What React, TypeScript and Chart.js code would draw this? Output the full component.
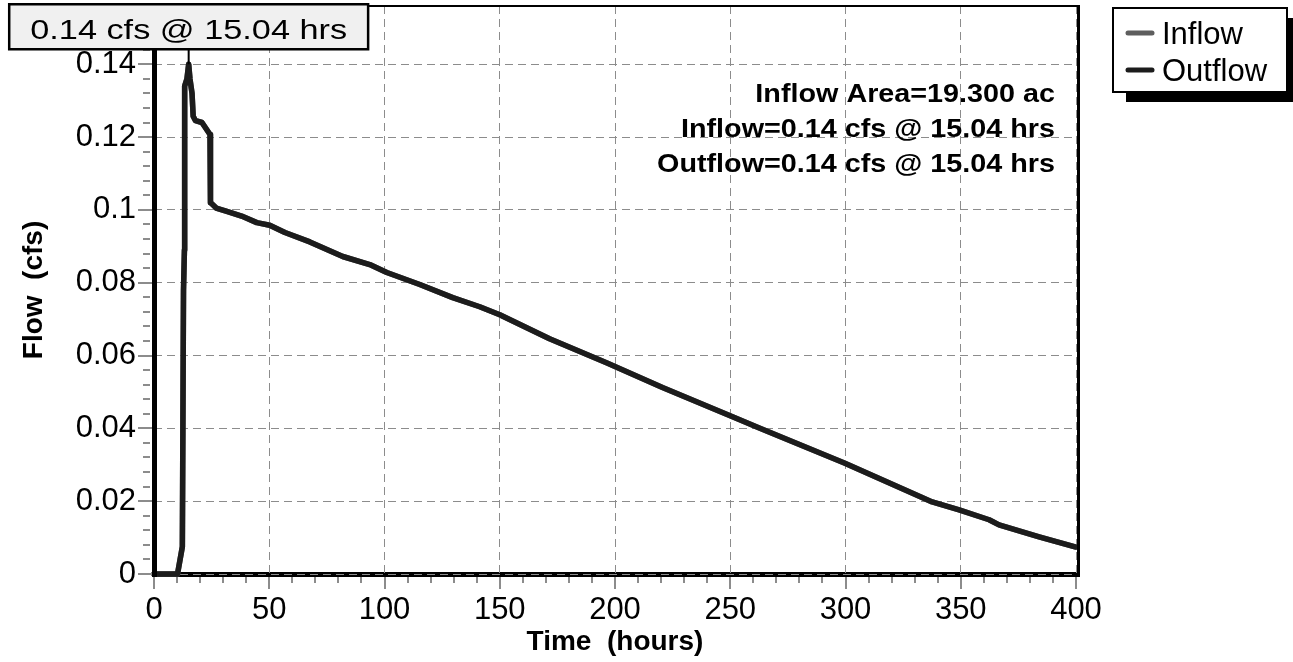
import React, { useEffect, useRef } from "react";
import { Chart, registerables } from "chart.js";

Chart.register(...registerables);

// ---- data ----
const timeHours = [
  0, 10.2, 12.3, 12.8, 13.2, 13.3, 14.3, 15.04, 15.6, 16.5, 17.0, 18.0, 20.8, 24.3, 24.5,
  27.0, 31.6, 38.0, 44.6, 50.2, 56.8, 67.6, 81.9, 93.6, 101.0, 115.3, 129.6, 141.3, 150.0,
  171.6, 196.3, 220.6, 251.0, 262.6, 299.5, 327.6, 337.6, 349.3, 362.3, 366.6, 384.0, 400.0,
];
const outflowCfs = [
  0, 0, 0.0075, 0.078, 0.089, 0.134, 0.136, 0.14, 0.136, 0.132, 0.1257, 0.1245, 0.124, 0.1207, 0.102,
  0.1005, 0.0996, 0.0983, 0.0965, 0.0958, 0.0938, 0.0912, 0.0872, 0.085, 0.0828, 0.0795, 0.0759, 0.0734, 0.0712,
  0.0646, 0.058, 0.0512, 0.0432, 0.0401, 0.0305, 0.0226, 0.0198, 0.0176, 0.0149, 0.0135, 0.0102, 0.0074,
];
const inflowCfs = [
  0, 0, 0.0075, 0.078, 0.089, 0.134, 0.136, 0.14, 0.136, 0.132, 0.1257, 0.1245, 0.124, 0.1207, 0.102,
  0.1005, 0.0996, 0.0983, 0.0965, 0.0958, 0.0938, 0.0912, 0.0872, 0.085, 0.0828, 0.0795, 0.0759, 0.0734, 0.0712,
  0.0646, 0.058, 0.0512, 0.0432, 0.0401, 0.0305, 0.0226, 0.0198, 0.0176, 0.0149, 0.0135, 0.0102, 0.0074,
];
const seriesNames = ["Inflow", "Outflow"];
const xTickValues = [0, 50, 100, 150, 200, 250, 300, 350, 400];
const yTickValues = [0, 0.02, 0.04, 0.06, 0.08, 0.1, 0.12, 0.14];
const yTickLabels = ["0", "0.02", "0.04", "0.06", "0.08", "0.1", "0.12", "0.14"];
const infoLines = [
  "Inflow Area=19.300 ac",
  "Inflow=0.14 cfs @ 15.04 hrs",
  "Outflow=0.14 cfs @ 15.04 hrs",
];
const peakLabel = "0.14 cfs @ 15.04 hrs";
const peakTime = 15.04;
const peakFlow = 0.14;

const FONT = '"Liberation Sans", Arial, Helvetica, sans-serif';
const INFLOW_COLOR = "#5e5e5e";
const OUTFLOW_COLOR = "#1c1c1c";

const decorPlugin = {
  id: "decor",
  beforeDraw(chart: any) {
    const { ctx, chartArea: a } = chart;
    ctx.save();
    ctx.fillStyle = "#ffffff";
    ctx.fillRect(0, 0, chart.width, chart.height);
    // thick bottom base line
    ctx.fillStyle = "#000";
    ctx.fillRect(a.left - 2, a.bottom - 2, a.right - a.left + 5, 5);
    ctx.restore();
  },
  afterDatasetsDraw(chart: any) {
    const { ctx, chartArea: a } = chart;
    const xs = chart.scales.x;
    const ys = chart.scales.y;
    ctx.save();
    ctx.fillStyle = "#000";
    // left thick border
    ctx.fillRect(a.left - 2, a.top - 3, 5, a.bottom - a.top + 6);
    // top border
    ctx.fillRect(a.left - 2, a.top - 1, a.right - a.left + 6, 2);
    // right border
    ctx.fillRect(a.right + 1, a.top - 1, 3, a.bottom - a.top + 4);

    // tick marks
    ctx.strokeStyle = "#8c8c8c";
    ctx.lineWidth = 2;
    for (let i = 0; i <= 39; i++) {
      const v = i * 0.004;
      const y = Math.round(ys.getPixelForValue(v));
      const major = i % 5 === 0;
      ctx.beginPath();
      ctx.moveTo(a.left - (major ? 16 : 11), y);
      ctx.lineTo(a.left - (major ? 2 : 4), y);
      ctx.stroke();
    }
    for (let i = 0; i <= 40; i++) {
      const v = i * 10;
      const x = Math.round(xs.getPixelForValue(v));
      const major = i % 5 === 0;
      ctx.beginPath();
      ctx.moveTo(x, a.bottom + 3);
      ctx.lineTo(x, a.bottom + (major ? 15 : 9));
      ctx.stroke();
    }

    // info text (right aligned)
    ctx.fillStyle = "#000";
    ctx.font = `bold 25px ${FONT}`;
    ctx.textAlign = "right";
    ctx.textBaseline = "alphabetic";
    infoLines.forEach((t, i) => {
      ctx.save();
      ctx.translate(a.right - 21, 102 + i * 35);
      ctx.scale(1.15, 1);
      ctx.fillText(t, 0, 0);
      ctx.restore();
    });

    // peak label box
    const px = xs.getPixelForValue(peakTime);
    const py = ys.getPixelForValue(peakFlow);
    ctx.font = `27px ${FONT}`;
    const sx = 1.27;
    const tw = ctx.measureText(peakLabel).width * sx;
    const bw = tw + 42;
    const bh = 45;
    const bb = py - 15;
    const bl = px - bw / 2;
    ctx.strokeStyle = "#000";
    ctx.lineWidth = 2;
    ctx.beginPath();
    ctx.moveTo(px, py);
    ctx.lineTo(px, bb);
    ctx.stroke();
    ctx.fillStyle = "#f0f0f0";
    ctx.fillRect(bl, bb - bh, bw, bh);
    ctx.lineWidth = 2.5;
    ctx.strokeRect(bl, bb - bh, bw, bh);
    ctx.fillStyle = "#000";
    ctx.textAlign = "center";
    ctx.save();
    ctx.translate(px, bb - 10);
    ctx.scale(sx, 1);
    ctx.fillText(peakLabel, 0, 0);
    ctx.restore();

    // legend with shadow
    const lx = 1113, ly = 8, lw = 174, lh = 84;
    ctx.fillStyle = "#000";
    ctx.fillRect(lx + 13, ly + 10, lw - 7, lh);
    ctx.fillStyle = "#fff";
    ctx.fillRect(lx, ly, lw, lh);
    ctx.strokeStyle = "#000";
    ctx.lineWidth = 2;
    ctx.strokeRect(lx, ly, lw, lh);
    const colors = [INFLOW_COLOR, OUTFLOW_COLOR];
    ctx.font = `31px ${FONT}`;
    ctx.textAlign = "left";
    ctx.textBaseline = "middle";
    seriesNames.forEach((name, i) => {
      const yy = ly + 25 + i * 37;
      ctx.strokeStyle = colors[i];
      ctx.lineWidth = 5;
      ctx.lineCap = "round";
      ctx.beginPath();
      ctx.moveTo(lx + 15, yy);
      ctx.lineTo(lx + 39, yy);
      ctx.stroke();
      ctx.fillStyle = "#000";
      ctx.fillText(name, lx + 49, yy + 2);
    });
    ctx.restore();
  },
};

export default function App() {
  const ref = useRef<HTMLCanvasElement | null>(null);
  useEffect(() => {
    if (!ref.current) return;
    const chart = new Chart(ref.current, {
      type: "line",
      data: {
        datasets: [
          {
            label: seriesNames[0],
            data: timeHours.map((t, i) => ({ x: t, y: inflowCfs[i] })),
            borderColor: INFLOW_COLOR,
            borderWidth: 5.5,
            pointRadius: 0,
            tension: 0,
            order: 1,
            clip: false as any,
            borderJoinStyle: "round",
            borderCapStyle: "round",
          },
          {
            label: seriesNames[1],
            data: timeHours.map((t, i) => ({ x: t, y: outflowCfs[i] })),
            borderColor: OUTFLOW_COLOR,
            borderWidth: 5.5,
            pointRadius: 0,
            tension: 0,
            order: 0,
            clip: false as any,
            borderJoinStyle: "round",
            borderCapStyle: "round",
          },
        ],
      },
      options: {
        animation: false,
        responsive: true,
        maintainAspectRatio: false,
        layout: { padding: { left: 0, right: 217, top: 6, bottom: 0 } },
        plugins: {
          legend: { display: false },
          tooltip: { enabled: false },
          title: { display: false },
        },
        scales: {
          x: {
            type: "linear",
            min: 0,
            max: 400,
            afterFit: (s: any) => {
              s.height = 88;
              s.paddingLeft = 0;
              s.paddingRight = 0;
            },
            afterBuildTicks: (s: any) => {
              s.ticks = xTickValues.map((v) => ({ value: v }));
            },
            ticks: {
              color: "#000",
              font: { family: FONT, size: 31 },
              padding: 18,
              maxRotation: 0,
              autoSkip: false,
              callback: (v: any) => String(v),
            },
            grid: { color: "#8c8c8c", lineWidth: 1, drawTicks: false },
            border: { display: false, dash: [8, 5] },
            title: {
              display: true,
              text: "Time  (hours)",
              color: "#000",
              font: { family: FONT, size: 28, weight: "bold" },
              padding: { top: 0, bottom: 3 },
            },
          },
          y: {
            type: "linear",
            min: 0,
            max: 0.156,
            afterFit: (s: any) => {
              s.width = 154;
              s.paddingTop = 0;
              s.paddingBottom = 0;
            },
            afterBuildTicks: (s: any) => {
              s.ticks = yTickValues.map((v) => ({ value: v }));
            },
            ticks: {
              color: "#000",
              font: { family: FONT, size: 31 },
              padding: 18,
              autoSkip: false,
              callback: (_v: any, i: number) => yTickLabels[i],
            },
            grid: { color: "#8c8c8c", lineWidth: 1, drawTicks: false },
            border: { display: false, dash: [8, 5] },
            title: {
              display: true,
              text: "Flow  (cfs)",
              color: "#000",
              font: { family: FONT, size: 28, weight: "bold" },
              padding: { top: 17, bottom: 0 },
            },
          },
        },
      },
      plugins: [decorPlugin],
    } as any);
    return () => chart.destroy();
  }, []);

  return (
    <div
      style={{
        position: "fixed",
        left: 0,
        top: 0,
        width: 1293,
        height: 662,
        background: "#fff",
      }}
    >
      <canvas ref={ref} />
    </div>
  );
}
